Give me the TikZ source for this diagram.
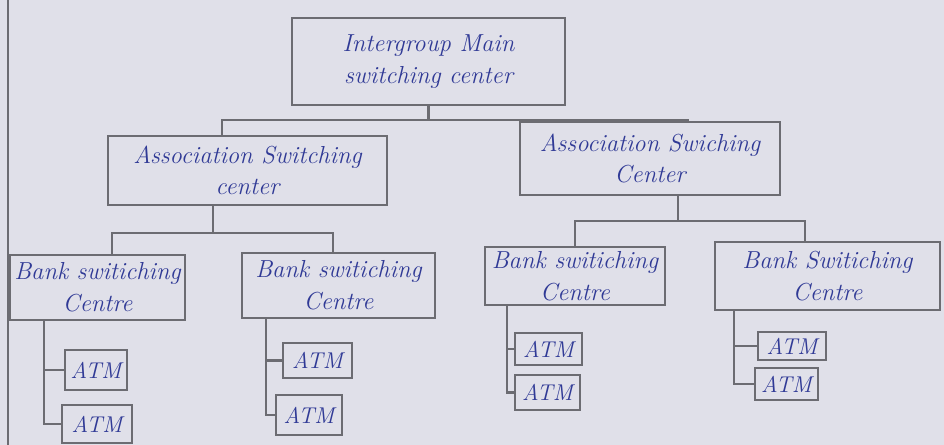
\documentclass[tikz,border=0pt]{standalone}
\usepackage{tikz}
\usetikzlibrary{positioning}
\definecolor{paperc}{RGB}{224,224,233}
\definecolor{pencilc}{RGB}{108,108,114}
\definecolor{inkc}{RGB}{48,58,150}

\begin{document}
\begin{tikzpicture}[
  box/.style={draw=pencilc, line width=1.2pt, align=center, text=inkc,
    inner sep=1pt, font=\fontsize{14}{18}\selectfont\itshape},
  atmbox/.style={box, font=\fontsize{13}{15}\selectfont\itshape},
  wire/.style={draw=pencilc, line width=1.2pt}
]
% 944x445 px -> 1cm = 50px, y goes down
\fill[paperc] (0,0) rectangle (18.88,-8.9);
\useasboundingbox (0,0) rectangle (18.88,-8.9);
\draw[pencilc, line width=0.8pt] (0.16,0) -- (0.16,-8.9);

% top and association level
\node[box, minimum width=5.46cm, minimum height=1.74cm] (igm) at (8.57,-1.23)
  {Intergroup Main\\switching center};
\node[box, minimum width=5.58cm, minimum height=1.38cm] (asl) at (4.95,-3.41)
  {Association Switching\\center};
\node[box, minimum width=5.2cm, minimum height=1.46cm] (asr) at (13.0,-3.17)
  {Association Swiching\\Center};

% bank level
\node[box, minimum width=3.5cm, minimum height=1.3cm] (b1) at (1.95,-5.75)
  {Bank switiching\\Centre};
\node[box, minimum width=3.86cm, minimum height=1.3cm] (b2) at (6.77,-5.71)
  {Bank switiching\\Centre};
\node[box, minimum width=3.6cm, minimum height=1.16cm] (b3) at (11.5,-5.52)
  {Bank switiching\\Centre};
\node[box, minimum width=4.5cm, minimum height=1.36cm] (b4) at (16.55,-5.52)
  {Bank Switiching\\Centre};

% ATMs
\node[atmbox, minimum width=1.24cm, minimum height=0.8cm] (a11) at (1.92,-7.4) {ATM};
\node[atmbox, minimum width=1.4cm, minimum height=0.76cm] (a12) at (1.94,-8.48) {ATM};
\node[atmbox, minimum width=1.38cm, minimum height=0.7cm] (a21) at (6.35,-7.21) {ATM};
\node[atmbox, minimum width=1.32cm, minimum height=0.8cm] (a22) at (6.18,-8.3) {ATM};
\node[atmbox, minimum width=1.34cm, minimum height=0.64cm] (a31) at (10.97,-6.98) {ATM};
\node[atmbox, minimum width=1.3cm, minimum height=0.7cm] (a32) at (10.95,-7.85) {ATM};
\node[atmbox, minimum width=1.36cm, minimum height=0.56cm] (a41) at (15.84,-6.92) {ATM};
\node[atmbox, minimum width=1.26cm, minimum height=0.64cm] (a42) at (15.73,-7.68) {ATM};

% buses between levels
\coordinate (j0) at ([yshift=-0.28cm]igm.south);
\draw[wire] (igm.south) -- (j0);
\draw[wire] ([xshift=-0.51cm]asl.north) |- (j0) -| ([xshift=0.76cm]asr.north);

\coordinate (j1) at ([xshift=-0.69cm,yshift=-0.54cm]asl.south);
\draw[wire] ([xshift=-0.69cm]asl.south) -- (j1);
\draw[wire] ([xshift=0.29cm]b1.north) |- (j1) -| ([xshift=-0.11cm]b2.north);

\coordinate (j2) at ([xshift=0.56cm,yshift=-0.5cm]asr.south);
\draw[wire] ([xshift=0.56cm]asr.south) -- (j2);
\draw[wire] (b3.north) |- (j2) -| ([xshift=-0.45cm]b4.north);

% ATM feeders
\foreach \b/\dx in {1/0.7, 2/0.5, 3/0.46, 4/0.4} {
  \coordinate (t\b) at ([xshift=\dx cm]b\b.south west);
  \draw[wire] (t\b) |- (a\b2.west);
  \draw[wire] (t\b |- a\b1.west) -- (a\b1.west);
}
\end{tikzpicture}
\end{document}
